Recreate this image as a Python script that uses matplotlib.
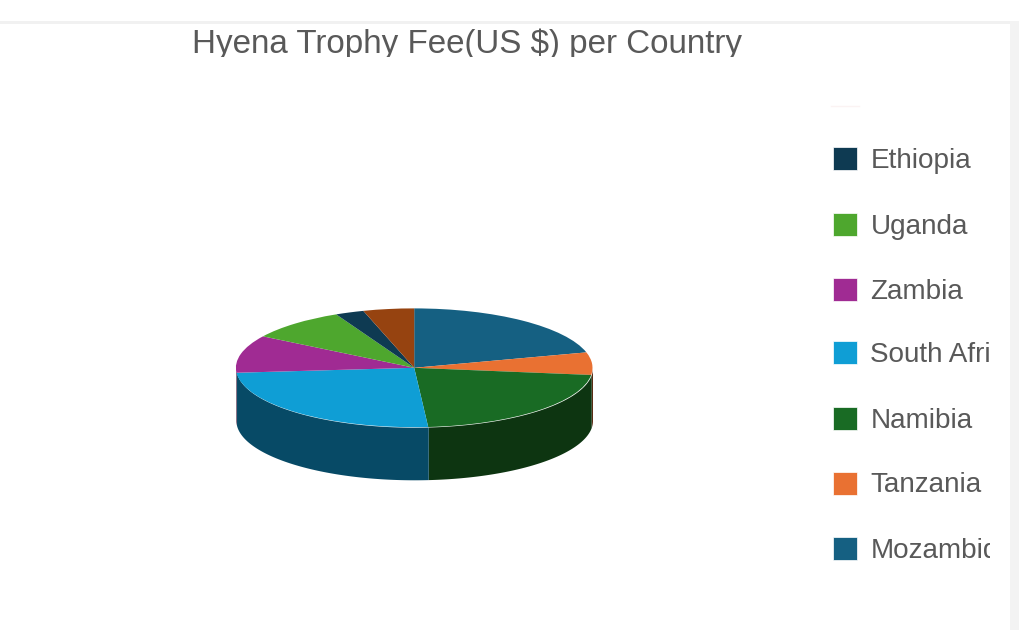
import numpy as np
import matplotlib
matplotlib.use("Agg")
import matplotlib.pyplot as plt
from matplotlib.patches import Rectangle

plt.rcParams['font.family'] = ['Liberation Sans', 'DejaVu Sans']

title = "Hyena Trophy Fee(US $) per Country"

# slices clockwise from 12 o'clock, share of the pie
countries = ["Mozambique", "Tanzania", "Namibia", "South Africa", "Zambia", "Uganda", "Ethiopia", "Zimbabwe"]
shares = [20.8, 6.1, 21.8, 24.9, 10.2, 8.9, 2.6, 4.6]
top_colors = ["#156082", "#e97132", "#196b24", "#0f9ed5", "#a02b93", "#4ea72e", "#0e3a52", "#964310"]
side_colors = ["#0a3a50", "#5a2c14", "#0d3511", "#074a66", "#3f1a3c", "#2c5f1a", "#07202e", "#562609"]

# legend only shows these, top to bottom
legend_names = ["Ethiopia", "Uganda", "Zambia", "South Africa", "Namibia", "Tanzania", "Mozambique"]
legend_y = [158.8, 224, 289.6, 352, 418, 483, 548]

W, H = 1020, 630
fig = plt.figure(figsize=(W / 100, H / 100), dpi=100, facecolor="white")

# page layer in pixel coordinates
page = fig.add_axes([0, 0, 1, 1])
page.set_xlim(0, W)
page.set_ylim(H, 0)
page.axis("off")
page.add_patch(Rectangle((0, 20.5), 1014, 3, color="#f1f1f1", lw=0))
page.add_patch(Rectangle((1010, 20.5), W - 1010, H, color="#f3f3f3", lw=0))

# title and legend text are cut off in the original too
clip_title = Rectangle((0, 23), W, 33.7, transform=page.transData)
t = page.text(467.5, 53.5, title, fontsize=23.85, color="#595959", ha="center", va="baseline", clip_on=True)
t.set_clip_path(clip_title)

# faint stub above the legend
page.plot([831, 859], [106, 106], color="#fbf3f3", lw=1)

clip_legend = Rectangle((0, 0), 990.5, H, transform=page.transData)
for name, y in zip(legend_names, legend_y):
    c = top_colors[countries.index(name)]
    page.add_patch(Rectangle((833.3, y - 11.5), 23.4, 23, facecolor=c, edgecolor="white", lw=0.5))
    txt = page.text(870.5, y + 9.5, name, fontsize=20.1, color="#595959", ha="left", va="baseline", clip_on=True)
    txt.set_clip_path(clip_legend)

# pie layer, squashed so the circle turns into the ellipse
rx, ry, depth = 178.3, 59.4, 52.6
left, top = 235.9, 308.4
box_h = 2 * ry + depth
pie_ax = fig.add_axes([left / W, 1 - (top + box_h) / H, 2 * rx / W, box_h / H])
pie_ax.patch.set_alpha(0)

fracs = np.array(shares) / sum(shares)
edges = np.concatenate([[0], np.cumsum(fracs)]) * 360

# extruded wall, only the front half shows
for i in range(len(shares)):
    a = max(edges[i], 90)
    b = min(edges[i + 1], 270)
    if b <= a:
        continue
    th = np.radians(np.linspace(a, b, 80))
    pie_ax.fill_between(np.sin(th), np.cos(th), np.cos(th) - depth / ry,
                        color=side_colors[i], lw=0, zorder=1)

wedges, _ = pie_ax.pie(shares, colors=top_colors, startangle=90, counterclock=False,
                       radius=1, wedgeprops={"linewidth": 0, "zorder": 2})
pie_ax.set_aspect("auto")
pie_ax.set_xlim(-1, 1)
pie_ax.set_ylim(-1 - depth / ry, 1)
pie_ax.axis("off")

fig.savefig("out.png", dpi=100)
